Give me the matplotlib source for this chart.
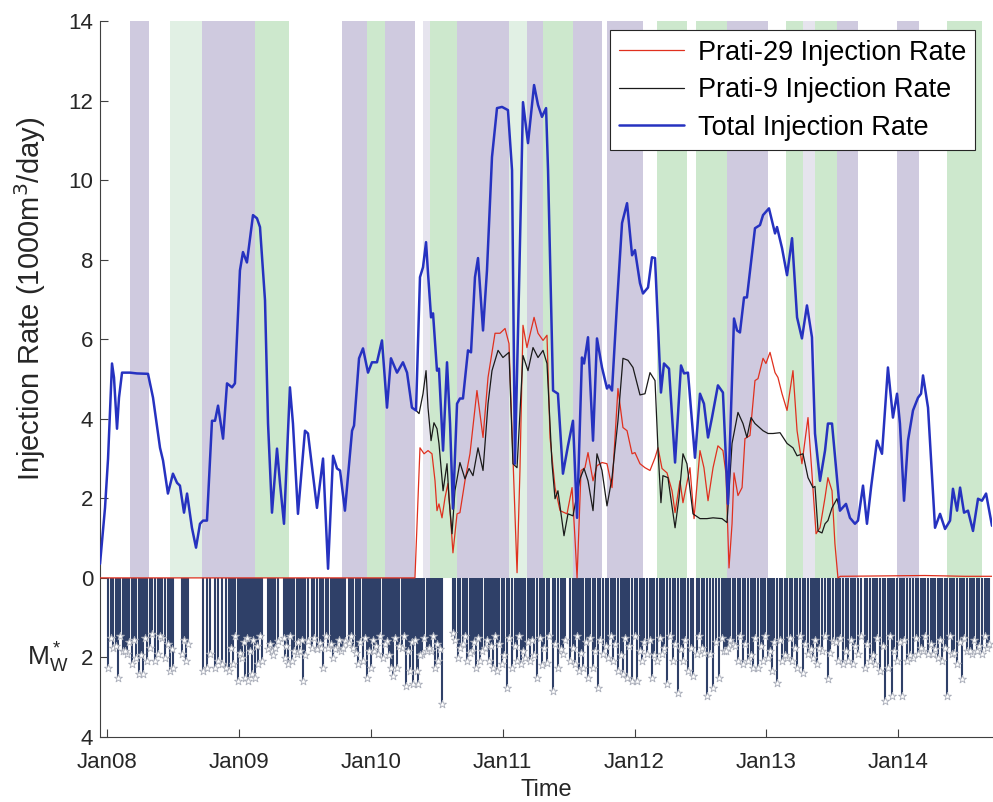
import matplotlib
matplotlib.use("Agg")
import matplotlib.pyplot as plt
import numpy as np

plt.rcParams['font.family'] = ['Liberation Sans', 'DejaVu Sans']

# time in years since Jan 2008
total_t = [-0.053, -0.015, 0.008, 0.038, 0.053, 0.076, 0.091, 0.114, 0.174, 0.227, 0.311, 0.349,
           0.402, 0.425, 0.462, 0.500, 0.531, 0.553, 0.584, 0.607, 0.644, 0.675, 0.705, 0.728,
           0.758, 0.796, 0.819, 0.842, 0.880, 0.910, 0.948, 0.970, 1.008, 1.031, 1.061, 1.107,
           1.137, 1.160, 1.198, 1.221, 1.251, 1.289, 1.312, 1.342, 1.387, 1.410, 1.448, 1.501,
           1.524, 1.592, 1.638, 1.676, 1.714, 1.744, 1.767, 1.804, 1.858, 1.873, 1.911, 1.941,
           1.979, 2.009, 2.047, 2.085, 2.123, 2.153, 2.199, 2.244, 2.275, 2.312, 2.343, 2.373,
           2.396, 2.419, 2.434, 2.457, 2.472, 2.502, 2.517, 2.548, 2.578, 2.601, 2.623, 2.654,
           2.676, 2.699, 2.737, 2.760, 2.790, 2.813, 2.851, 2.881, 2.919, 2.957, 2.995, 3.040,
           3.071, 3.093, 3.124, 3.154, 3.192, 3.238, 3.268, 3.298, 3.329, 3.344, 3.382, 3.419,
           3.457, 3.495, 3.533, 3.564, 3.601, 3.617, 3.647, 3.685, 3.715, 3.753, 3.791, 3.806,
           3.829, 3.867, 3.905, 3.943, 3.981, 4.003, 4.041, 4.064, 4.102, 4.132, 4.155, 4.200,
           4.223, 4.261, 4.307, 4.352, 4.375, 4.405, 4.458, 4.496, 4.526, 4.557, 4.587, 4.632,
           4.670, 4.708, 4.754, 4.777, 4.799, 4.830, 4.852, 4.913, 4.951, 4.974, 5.019, 5.065,
           5.080, 5.118, 5.156, 5.194, 5.232, 5.269, 5.307, 5.345, 5.368, 5.406, 5.444, 5.466,
           5.497, 5.527, 5.557, 5.603, 5.633, 5.671, 5.694, 5.732, 5.762, 5.793, 5.838, 5.876,
           5.921, 5.959, 5.990, 6.012, 6.043, 6.073, 6.111, 6.149, 6.172, 6.187, 6.225, 6.278,
           6.316, 6.354, 6.392, 6.414, 6.445, 6.468, 6.498, 6.528, 6.566, 6.604, 6.634, 6.665,
           6.710]
total_rate = [0.35, 1.76, 3.0, 5.39, 5.04, 3.75, 4.53, 5.16, 5.16, 5.14, 5.13, 4.53,
              3.27, 2.95, 2.12, 2.62, 2.39, 2.32, 1.64, 2.12, 1.26, 0.76, 1.36, 1.44,
              1.44, 3.95, 3.95, 4.33, 3.50, 4.89, 4.79, 4.89, 7.73, 8.19, 7.93, 9.12,
              9.04, 8.82, 6.98, 3.88, 1.64, 3.25, 2.37, 1.36, 4.79, 3.88, 1.61, 3.70,
              3.63, 1.76, 3.0, 0.23, 3.07, 2.75, 2.70, 1.69, 3.70, 3.83, 5.52, 5.77,
              5.16, 5.42, 5.42, 5.97, 4.28, 5.52, 5.16, 5.42, 5.16, 4.28, 4.21, 7.56,
              7.81, 8.44, 7.66, 6.55, 6.65, 5.21, 5.26, 3.20, 5.42, 3.88, 1.74, 4.38,
              4.51, 4.51, 5.72, 5.67, 7.56, 8.04, 6.22, 7.73, 10.58, 11.81, 11.84, 11.76,
              10.25, 2.87, 7.30, 11.96, 10.93, 12.39, 11.89, 11.59, 11.81, 10.25, 4.71, 4.63,
              2.62, 3.32, 3.95, 1.51, 5.54, 5.39, 6.05, 3.45, 6.02, 5.29, 4.76, 4.84,
              4.71, 6.90, 8.92, 9.42, 8.11, 8.24, 7.41, 7.15, 7.30, 8.06, 8.04, 4.66,
              5.39, 5.26, 2.90, 5.34, 5.14, 5.16, 3.02, 4.63, 4.38, 3.53, 4.03, 4.84,
              4.66, 1.86, 6.52, 6.22, 6.17, 7.05, 7.05, 8.79, 8.87, 9.12, 9.29, 8.66,
              8.82, 8.29, 7.61, 8.54, 6.55, 6.02, 6.85, 6.05, 3.63, 2.44, 3.20, 3.88,
              3.88, 2.77, 1.69, 1.86, 1.51, 1.36, 1.44, 2.32, 1.36, 2.27, 3.45, 3.12,
              5.29, 4.03, 4.63, 3.88, 1.94, 3.45, 4.21, 4.53, 4.63, 5.09, 4.28, 1.26,
              1.61, 1.23, 1.44, 2.24, 1.69, 2.27, 1.64, 1.69, 1.18, 1.99, 1.94, 2.12,
              1.31]

p29_t = [-0.053, 2.335, 2.373, 2.404, 2.434, 2.464, 2.487, 2.502, 2.517, 2.540, 2.563, 2.585,
         2.608, 2.623, 2.654, 2.676, 2.714, 2.752, 2.805, 2.851, 2.889, 2.942, 2.980, 3.018,
         3.048, 3.078, 3.109, 3.131, 3.154, 3.184, 3.238, 3.268, 3.306, 3.336, 3.359, 3.397,
         3.435, 3.488, 3.526, 3.548, 3.564, 3.594, 3.624, 3.647, 3.685, 3.715, 3.753, 3.791,
         3.829, 3.874, 3.912, 3.943, 3.981, 4.003, 4.041, 4.079, 4.117, 4.155, 4.178, 4.208,
         4.246, 4.284, 4.307, 4.344, 4.367, 4.420, 4.451, 4.496, 4.526, 4.557, 4.595, 4.632,
         4.670, 4.693, 4.716, 4.739, 4.754, 4.784, 4.815, 4.837, 4.875, 4.913, 4.936, 4.974,
         4.996, 5.027, 5.065, 5.087, 5.118, 5.156, 5.201, 5.232, 5.269, 5.315, 5.345, 5.376,
         5.406, 5.444, 5.466, 5.497, 5.519, 5.542, 5.560, 5.900, 6.200, 6.500, 6.710]
p29_rate = [0.0, 0.0, 3.27, 3.12, 3.20, 3.12, 2.44, 1.69, 1.86, 1.51, 2.02, 2.37,
            1.36, 0.63, 1.61, 1.64, 2.44, 3.12, 4.71, 3.53, 5.04, 6.15, 6.15, 6.27,
            5.89, 3.02, 0.13, 2.70, 6.35, 5.79, 6.55, 6.15, 5.97, 6.10, 3.53, 2.27,
            1.69, 1.61, 2.27, 1.01, 0.0, 2.70, 2.77, 3.15, 2.44, 2.82, 2.90, 2.87,
            2.27, 4.76, 3.78, 3.70, 3.12, 3.15, 2.87, 2.77, 2.70, 3.02, 3.27, 2.75,
            2.64, 2.19, 1.64, 2.44, 1.89, 2.77, 1.49, 3.20, 2.77, 1.94, 2.77, 3.32,
            3.20, 2.62, 0.25, 1.36, 2.64, 2.07, 2.27, 3.50, 3.58, 4.96, 5.01, 5.52,
            5.39, 5.67, 5.16, 5.04, 4.63, 4.21, 5.21, 3.70, 2.87, 4.03, 2.62, 1.11,
            1.26, 2.02, 2.52, 2.19, 0.86, 0.0, 0.04, 0.05, 0.06, 0.04, 0.04]

p9_t = [2.343, 2.366, 2.396, 2.419, 2.434, 2.457, 2.479, 2.502, 2.517, 2.548, 2.578, 2.593,
        2.616, 2.638, 2.676, 2.714, 2.745, 2.775, 2.813, 2.851, 2.889, 2.919, 2.965, 3.002,
        3.048, 3.078, 3.109, 3.154, 3.192, 3.230, 3.268, 3.306, 3.336, 3.374, 3.397, 3.419,
        3.465, 3.495, 3.533, 3.586, 3.617, 3.647, 3.685, 3.715, 3.753, 3.791, 3.829, 3.874,
        3.912, 3.950, 3.988, 4.041, 4.079, 4.117, 4.155, 4.178, 4.200, 4.215, 4.253, 4.307,
        4.337, 4.367, 4.397, 4.443, 4.496, 4.549, 4.595, 4.663, 4.701, 4.739, 4.784, 4.822,
        4.852, 4.883, 4.913, 4.974, 5.012, 5.050, 5.103, 5.156, 5.201, 5.232, 5.277, 5.315,
        5.353, 5.368, 5.391, 5.421, 5.444, 5.466, 5.497, 5.535, 5.557]
p9_rate = [4.21, 4.13, 4.63, 5.21, 4.28, 3.45, 3.90, 3.75, 3.38, 2.19, 2.87, 2.02,
           1.11, 2.19, 2.90, 2.49, 2.75, 2.57, 3.27, 2.70, 4.38, 5.21, 5.72, 5.54,
           5.67, 2.87, 2.77, 5.59, 5.21, 5.79, 5.54, 5.72, 5.39, 2.87, 1.99, 2.19,
           1.06, 1.61, 1.56, 2.49, 2.75, 2.44, 1.69, 3.12, 2.70, 1.81, 2.52, 3.95,
           5.52, 5.47, 5.29, 4.60, 4.63, 5.16, 4.96, 3.20, 1.89, 2.57, 2.52, 1.26,
           2.02, 3.12, 2.87, 1.61, 1.49, 1.49, 1.51, 1.49, 1.39, 3.38, 4.16, 3.88,
           3.53, 4.03, 3.88, 3.70, 3.63, 3.63, 3.65, 3.38, 3.27, 3.07, 3.12, 2.52,
           2.27, 2.30, 1.18, 1.13, 1.36, 1.44, 1.76, 1.99, 1.69]

# seismic events: time (years since Jan 2008) and magnitude
eq_t = [0.008, 0.045, 0.083, 0.121, 0.152, 0.190, 0.220, 0.243, 0.273, 0.303, 0.341, 0.364,
        0.387, 0.417, 0.440, 0.478, 0.500, 0.569, 0.599, 0.614, 0.728, 0.758, 0.781, 0.819,
        0.842, 0.872, 0.902, 0.925, 0.955, 0.993, 1.024, 1.046, 1.069, 1.099, 1.122, 1.145,
        1.175, 1.221, 1.251, 1.274, 1.297, 1.350, 1.372, 1.403, 1.441, 1.463, 1.486, 1.524,
        1.554, 1.592, 1.615, 1.638, 1.676, 1.714, 1.744, 1.774, 1.804, 1.835, 1.865, 1.903,
        1.941, 1.971, 2.002, 2.024, 2.055, 2.093, 2.123, 2.153, 2.168, 2.199, 2.237, 2.267,
        2.297, 2.320, 2.350, 2.358, 2.388, 2.426, 2.457, 2.487, 2.510, 2.540, 2.623, 2.661,
        2.699, 2.730, 2.767, 2.798, 2.828, 2.866, 2.896, 2.927, 2.957, 2.995, 3.033, 3.071,
        3.109, 3.139, 3.169, 3.207, 3.260, 3.298, 3.336, 3.382, 3.419, 3.457, 3.510, 3.548,
        3.579, 3.609, 3.647, 3.685, 3.723, 3.761, 3.799, 3.837, 3.874, 3.912, 3.943, 3.981,
        4.018, 4.056, 4.094, 4.132, 4.170, 4.208, 4.246, 4.291, 4.329, 4.367, 4.405, 4.443,
        4.473, 4.511, 4.549, 4.572, 4.595, 4.640, 4.678, 4.708, 4.746, 4.784, 4.822, 4.860,
        4.898, 4.936, 4.974, 5.012, 5.042, 5.080, 5.118, 5.156, 5.194, 5.232, 5.277, 5.315,
        5.353, 5.383, 5.421, 5.466, 5.504, 5.542, 5.580, 5.618, 5.656, 5.694, 5.747, 5.785,
        5.823, 5.861, 5.899, 5.921, 5.952, 5.990, 6.028, 6.066, 6.111, 6.149, 6.187, 6.225,
        6.263, 6.301, 6.331, 6.369, 6.407, 6.445, 6.483, 6.520, 6.558, 6.596, 6.634, 6.672]
eq_mag = [2.27, 1.76, 2.52, 1.84, 1.91, 2.17, 2.02, 2.42, 2.42, 2.09, 1.41, 2.09,
          1.91, 1.51, 2.02, 2.34, 2.27, 1.91, 2.09, 1.66, 2.34, 2.27, 1.91, 2.27,
          2.09, 2.17, 2.27, 2.34, 2.17, 2.59, 2.02, 2.52, 2.59, 2.42, 2.52, 2.17,
          2.09, 1.79, 1.84, 1.76, 1.59, 2.02, 2.17, 2.09, 1.91, 1.84, 2.59, 1.59,
          1.76, 1.79, 1.64, 2.27, 1.76, 2.02, 1.76, 1.84, 1.59, 1.64, 1.76, 2.17,
          2.09, 2.52, 2.27, 1.84, 1.91, 2.02, 1.59, 2.27, 2.47, 2.27, 1.76, 2.72,
          2.34, 2.67, 2.34, 2.67, 1.91, 1.84, 1.84, 2.27, 2.09, 3.17, 1.39, 2.02,
          1.66, 2.09, 1.84, 2.27, 2.09, 1.76, 2.09, 2.27, 2.34, 2.17, 2.77, 2.27,
          2.09, 2.17, 2.02, 2.09, 2.52, 2.20, 2.15, 2.85, 2.27, 1.91, 2.09, 2.17,
          2.34, 2.27, 2.52, 2.27, 2.77, 1.91, 2.02, 2.09, 2.34, 2.42, 2.52, 2.59,
          2.59, 2.09, 1.91, 2.52, 2.09, 1.91, 2.67, 2.09, 2.90, 2.09, 2.34, 2.47,
          1.91, 1.76, 2.97, 1.91, 2.77, 2.52, 1.84, 1.76, 1.66, 2.09, 2.17, 2.09,
          2.27, 2.27, 2.09, 2.02, 2.34, 2.64, 2.09, 2.02, 2.09, 2.27, 2.39, 1.91,
          2.02, 2.17, 1.84, 2.54, 1.59, 2.09, 2.17, 2.09, 2.17, 1.91, 2.27, 2.09,
          2.17, 2.34, 3.10, 2.27, 2.97, 2.09, 2.97, 2.09, 2.02, 1.91, 1.84, 1.91,
          1.91, 2.02, 2.09, 2.97, 1.91, 2.17, 2.54, 1.84, 1.91, 1.84, 1.91, 1.76]

# many smaller events forming the dense band
minor_t = [0.030, 0.065, 0.100, 0.135, 0.170, 0.205, 0.260, 0.290, 0.325, 0.400, 0.460, 0.490,
           0.585, 0.940, 0.970, 1.010, 1.035, 1.058, 1.085, 1.110, 1.134, 1.160, 1.235, 1.260,
           1.340, 1.360, 1.390, 1.420, 1.450, 1.475, 1.505, 1.570, 1.625, 1.660, 1.695, 1.730,
           1.760, 1.790, 1.850, 1.885, 1.920, 1.955, 1.985, 2.015, 2.040, 2.070, 2.110, 2.140,
           2.185, 2.215, 2.250, 2.280, 2.310, 2.335, 2.370, 2.405, 2.440, 2.470, 2.500, 2.525,
           2.640, 2.680, 2.715, 2.750, 2.780, 2.810, 2.845, 2.880, 2.910, 2.940, 2.975, 3.010,
           3.050, 3.090, 3.125, 3.155, 3.190, 3.225, 3.240, 3.280, 3.315, 3.355, 3.400, 3.440,
           3.475, 3.530, 3.565, 3.595, 3.630, 3.665, 3.700, 3.740, 3.780, 3.820, 3.855, 3.895,
           3.930, 3.960, 4.000, 4.040, 4.075, 4.115, 4.150, 4.190, 4.225, 4.270, 4.310, 4.350,
           4.385, 4.425, 4.490, 4.530, 4.615, 4.660, 4.690, 4.725, 4.765, 4.800, 4.840, 4.880,
           4.915, 4.955, 4.990, 5.030, 5.060, 5.100, 5.140, 5.175, 5.215, 5.255, 5.295, 5.335,
           5.370, 5.400, 5.445, 5.485, 5.525, 5.560, 5.600, 5.640, 5.675, 5.720, 5.765, 5.805,
           5.840, 5.880, 5.935, 5.970, 6.010, 6.045, 6.090, 6.130, 6.170, 6.205, 6.245, 6.280,
           6.315, 6.350, 6.390, 6.425, 6.465, 6.500, 6.540, 6.575, 6.615, 6.655, 6.690]
minor_mag = [1.50, 1.70, 1.45, 1.85, 1.60, 1.55, 1.95, 1.50, 1.75, 1.45, 1.65, 1.80,
             1.55, 1.75, 1.45, 1.90, 1.60, 1.50, 1.85, 1.55, 1.70, 1.45, 1.65, 1.95,
             1.50, 1.70, 1.45, 1.85, 1.60, 1.55, 1.95, 1.50, 1.75, 1.45, 1.65, 1.80,
             1.55, 1.75, 1.45, 1.90, 1.60, 1.50, 1.85, 1.55, 1.70, 1.45, 1.65, 1.95,
             1.50, 1.70, 1.45, 1.85, 1.60, 1.55, 1.95, 1.50, 1.75, 1.45, 1.65, 1.80,
             1.55, 1.75, 1.45, 1.90, 1.60, 1.50, 1.85, 1.55, 1.70, 1.45, 1.65, 1.95,
             1.50, 1.70, 1.45, 1.85, 1.60, 1.55, 1.95, 1.50, 1.75, 1.45, 1.65, 1.80,
             1.55, 1.75, 1.45, 1.90, 1.60, 1.50, 1.85, 1.55, 1.70, 1.45, 1.65, 1.95,
             1.50, 1.70, 1.45, 1.85, 1.60, 1.55, 1.95, 1.50, 1.75, 1.45, 1.65, 1.80,
             1.55, 1.75, 1.45, 1.90, 1.60, 1.50, 1.85, 1.55, 1.70, 1.45, 1.65, 1.95,
             1.50, 1.70, 1.45, 1.85, 1.60, 1.55, 1.95, 1.50, 1.75, 1.45, 1.65, 1.80,
             1.55, 1.75, 1.45, 1.90, 1.60, 1.50, 1.85, 1.55, 1.70, 1.45, 1.65, 1.95,
             1.50, 1.70, 1.45, 1.85, 1.60, 1.55, 1.95, 1.50, 1.75, 1.45, 1.65, 1.80,
             1.55, 1.75, 1.45, 1.90, 1.60, 1.50, 1.85, 1.55, 1.70, 1.45, 1.65]

# operational periods (start, end in years since Jan 2008) and type
band_start = [0.174, 0.478, 0.720, 1.122, 1.782, 1.971, 2.108, 2.396, 2.449, 2.654, 3.048, 3.184,
              3.306, 3.533, 3.791, 4.170, 4.466, 4.701, 5.148, 5.277, 5.368, 5.535, 5.990, 6.369]
band_end = [0.318, 0.720, 1.122, 1.380, 1.971, 2.108, 2.335, 2.449, 2.654, 3.048, 3.184, 3.306,
            3.533, 3.753, 4.064, 4.397, 4.701, 5.012, 5.277, 5.368, 5.535, 5.694, 6.157, 6.634]
band_kind = ['p', 'lg', 'p', 'g', 'p', 'g', 'p', 'lp', 'g', 'p', 'lg', 'p',
             'g', 'p', 'p', 'g', 'g', 'p', 'g', 'lp', 'g', 'p', 'p', 'g']

year0 = 2008
year_ticks = [2008, 2009, 2010, 2011, 2012, 2013, 2014]
year_labels = ['Jan08', 'Jan09', 'Jan10', 'Jan11', 'Jan12', 'Jan13', 'Jan14']

band_colors = {'p': '#cfcadf', 'g': '#cde8cd', 'lg': '#e1f0e4', 'lp': '#e6e4ee'}

fig = plt.figure(figsize=(9.93, 8.02), dpi=100)
ax = fig.add_axes([100 / 993, 65 / 802, 892 / 993, 716 / 802])

ymin, ymax = -4, 14
frac0 = (0 - ymin) / (ymax - ymin)
for s, e, k in zip(band_start, band_end, band_kind):
    ax.axvspan(year0 + s, year0 + e, ymin=frac0, ymax=1, color=band_colors[k], lw=0, zorder=0)

# earthquakes drawn downward
all_t = np.array(eq_t + minor_t) + year0
all_m = np.array(eq_mag + minor_mag)
ax.vlines(all_t, -all_m, 0, color='#2f4068', lw=1.5, zorder=2)
ax.scatter(all_t, -all_m, marker='*', s=36, facecolor='white', edgecolor='#a8acb8',
           linewidth=0.6, zorder=3)

line_kw = dict(solid_joinstyle='round', solid_capstyle='round')
ax.plot(np.array(p29_t) + year0, p29_rate, color='#e0301e', lw=0.9, zorder=4,
        label='Prati-29 Injection Rate', **line_kw)
ax.plot(np.array(p9_t) + year0, p9_rate, color='#1a1a1a', lw=0.9, zorder=4,
        label='Prati-9 Injection Rate', **line_kw)
ax.plot(np.array(total_t) + year0, total_rate, color='#2632c0', lw=1.8, zorder=5,
        label='Total Injection Rate', **line_kw)

ax.set_xlim(year0 - 0.053, year0 + 6.71)
ax.set_ylim(ymin, ymax)
ax.set_xticks(year_ticks)
ax.set_xticklabels(year_labels)
yt = list(range(-4, 15, 2))
ax.set_yticks(yt)
ax.set_yticklabels([str(abs(v)) for v in yt])
ax.tick_params(direction='in', length=6, width=0.8, colors='#404040', labelsize=16,
               labelcolor='#262626')
ax.tick_params(axis='x', pad=11)
ax.tick_params(axis='y', pad=5)
for side in ['top', 'right']:
    ax.spines[side].set_visible(False)
for side in ['left', 'bottom']:
    ax.spines[side].set_color('#404040')
    ax.spines[side].set_linewidth(0.8)

ax.set_xlabel('Time', fontsize=17, color='#262626', labelpad=4)
ax.text(-0.078, 7.0, 'Injection Rate (1000m$^3$/day)', transform=ax.get_yaxis_transform(),
        rotation=90, ha='center', va='center', fontsize=21, color='#262626')
ax.text(-0.058, -2, r'$\mathregular{M_W^*}$', transform=ax.get_yaxis_transform(),
        ha='center', va='center', fontsize=19, color='#262626')

leg = ax.legend(loc='upper right', bbox_to_anchor=(0.9815, 0.987), fontsize=19.5,
                fancybox=False, framealpha=1, edgecolor='#262626', handlelength=2.4,
                handletextpad=0.5, borderpad=0.35, labelspacing=0.42, borderaxespad=0)
leg.get_frame().set_linewidth(0.8)

fig.savefig('out.png', dpi=100)
